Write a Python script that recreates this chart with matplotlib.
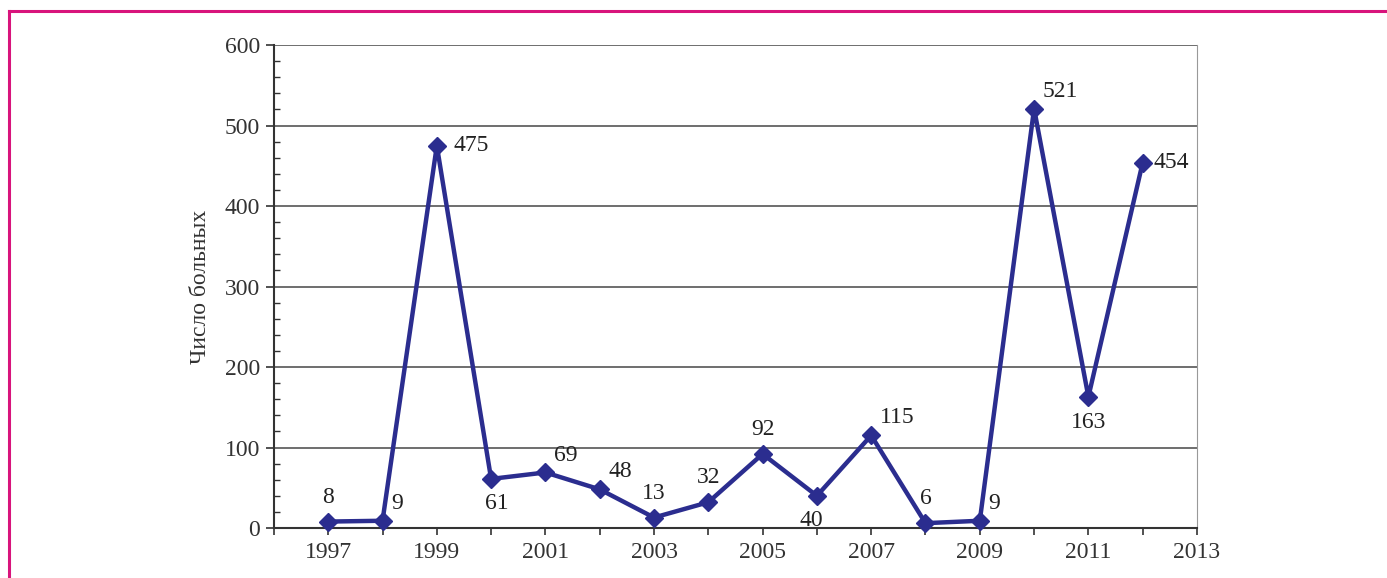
import matplotlib.pyplot as plt
from matplotlib.lines import Line2D
from matplotlib.ticker import MultipleLocator

years = [1997, 1998, 1999, 2000, 2001, 2002, 2003, 2004,
         2005, 2006, 2007, 2008, 2009, 2010, 2011, 2012]
patients = [8, 9, 475, 61, 69, 48, 13, 32, 92, 40, 115, 6, 9, 521, 163, 454]
# where each value label sits relative to its point
label_pos = ['up', 'ur', 'rr', 'dr', 'ur', 'ur', 'up', 'up',
             'up', 'dl', 'ur', 'up', 'ur', 'ur', 'down', 'r']

plt.rcParams['font.family'] = ['Liberation Serif', 'DejaVu Serif']

fig = plt.figure(figsize=(13.87, 5.78), dpi=100)
ax = fig.add_axes([0.1975, 0.0865, 0.6655, 0.8355])

# pink frame along top and left
fig.add_artist(Line2D([0.0068, 0.0068], [0, 1 - 11 / 578], color='#d8147c',
                      lw=2.2, transform=fig.transFigure))
fig.add_artist(Line2D([0.0068, 1], [1 - 11 / 578, 1 - 11 / 578], color='#d8147c',
                      lw=2.2, transform=fig.transFigure))

ax.plot(years, patients, color='#2b2d8f', lw=3.2, marker='D', ms=9,
        markeredgecolor='#2b2d8f', zorder=3, clip_on=False)

offsets = {'up': ((0, 10), 'center', 'bottom'),
           'down': ((0, -11), 'center', 'top'),
           'dr': ((4, -10), 'center', 'top'),
           'dl': ((-4, -10), 'center', 'top'),
           'ur': ((6, 5), 'left', 'bottom'),
           'r': ((8, 0), 'left', 'center'),
           'rr': ((12, 0), 'left', 'center')}
for x, y, p in zip(years, patients, label_pos):
    off, ha, va = offsets[p]
    ax.annotate(str(y), (x, y), xytext=off, textcoords='offset points',
                ha=ha, va=va, fontsize=17, color='#222222')

ax.set_xlim(1996, 2013)
ax.set_ylim(0, 600)
ax.set_xticks(range(1997, 2014, 2))
ax.xaxis.set_minor_locator(MultipleLocator(1))
ax.yaxis.set_major_locator(MultipleLocator(100))
ax.yaxis.set_minor_locator(MultipleLocator(20))

ax.grid(axis='y', which='major', color='#555555', lw=1.2)
ax.set_axisbelow(True)

ax.tick_params(axis='x', which='both', direction='out', length=5, width=1.2,
               labelsize=17, colors='#333333', pad=5)
ax.tick_params(axis='y', which='major', direction='out', length=6, width=1.2,
               labelsize=17, colors='#333333', pad=4)
ax.tick_params(axis='y', which='minor', direction='in', length=4, width=1,
               colors='#333333')

for s in ['left', 'bottom']:
    ax.spines[s].set_color('#333333')
    ax.spines[s].set_linewidth(1.5)
ax.spines['top'].set_visible(False)
ax.spines['right'].set_color('#999999')

ax.set_ylabel('Число больных', fontsize=17, color='#333333', labelpad=10)

fig.savefig('out.png', dpi=100)
